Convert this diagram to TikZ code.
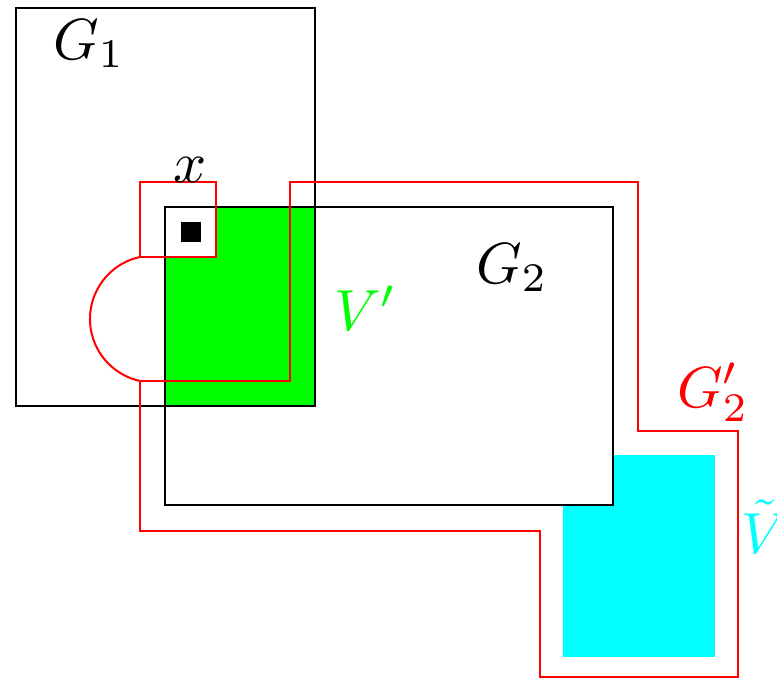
\documentclass[tikz,border=0pt]{standalone}
\definecolor{cy}{RGB}{0,255,255}
\definecolor{gr}{RGB}{0,255,0}
\definecolor{rd}{RGB}{255,0,0}
\begin{document}
\begin{tikzpicture}[x=1pt,y=-1pt,
  lab/.style={anchor=base west,inner sep=0pt,scale=5.8},
  blk/.style={draw=black,line width=2pt},
  rdl/.style={draw=rd,line width=2pt}]
\useasboundingbox (0,0) rectangle (777,680);
% cyan region
\fill[cy] (563,455) rectangle (715,657);
% G2 box filled white
\fill[white] (165,207) rectangle (613,505);
% green V'
\fill[gr] (165,207) -- (315,207) -- (315,406) -- (165,406) -- cycle;
\fill[white] (165,207) rectangle (216,257);
% black outlines
\draw[blk] (16,8) rectangle (315,406);
\draw[blk] (165,207) rectangle (613,505);
% x point
\fill[black] (181,222) rectangle (201,242);
% red G2'
\draw[rdl] (140,257) -- (140,182) -- (216,182) -- (216,257) -- cycle;
\draw[rdl] (140,257) arc[start angle=102.2,end angle=257.8,x radius=63.4,y radius=-63.4];
\draw[rdl,line join=miter] (140,381) -- (290,381) -- (290,182) -- (638,182) -- (638,431) -- (738,431) -- (738,677) -- (540,677) -- (540,531) -- (140,531) -- cycle;
% labels
\node[lab] (g1) at (52,59) {$G_1$};
\node[lab] (x) at (172,182) {$x$};
\node[lab] (g2) at (475,283) {$G_2$};
\node[lab,text=gr] (vp) at (333,330) {$V'$};
\node[lab,text=rd] (g2p) at (676,407) {$G'_2$};
\node[lab,text=cy] (vt) at (740,553) {$\tilde V$};
\end{tikzpicture}
\end{document}
